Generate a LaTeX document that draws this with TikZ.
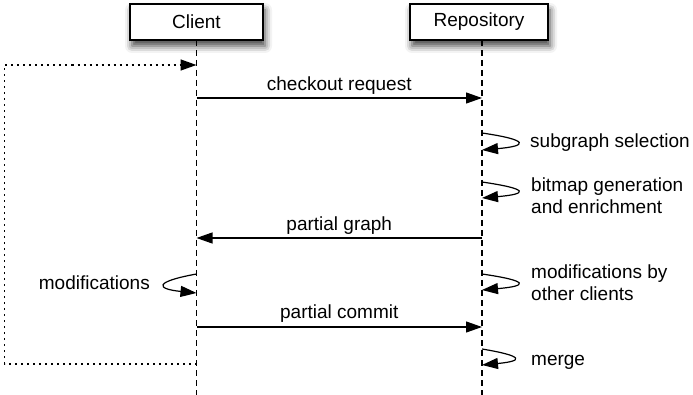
\documentclass[tikz,border=0pt]{standalone}
\usepackage{fontspec}
\setmainfont{Liberation Sans}
\usetikzlibrary{arrows.meta, shadows.blur}

\tikzset{
  actor/.style={draw, line width=1.4pt, fill=white, minimum height=36pt, inner sep=0pt,
    blur shadow={shadow xshift=2pt, shadow yshift=-6pt, shadow blur radius=7pt, shadow opacity=75}},
  lifeline/.style={line width=1.4pt, dash pattern=on 6pt off 4pt},
  msg/.style={line width=1.2pt, -{Triangle[length=16pt, width=11pt]}},
  lbl/.style={inner sep=0pt},
}

\begin{document}
\begin{tikzpicture}[x=1pt, y=-1pt, font=\fontsize{19}{22}\selectfont]
  \useasboundingbox (0,0) rectangle (693,395);

  % the two parties and their life lines
  \coordinate (c-end) at (196.5,395);
  \coordinate (r-end) at (482,395);
  \draw[lifeline] (196.5,40) -- (c-end);
  \draw[lifeline] (482,40) -- (r-end);
  \node[actor, minimum width=133pt] (client) at (196.5,22) {Client};
  \node[actor, minimum width=138pt] (repo) at (479,22) {Repository};

  % points on the life lines
  \coordinate (c-again) at (196.5,65);
  \coordinate (c-req) at (196.5,98);   \coordinate (r-req) at (482,98);
  \coordinate (r-sel1) at (482,133);   \coordinate (r-sel2) at (482,150);
  \coordinate (r-bmp1) at (482,182);   \coordinate (r-bmp2) at (482,198);
  \coordinate (c-part) at (196.5,238); \coordinate (r-part) at (482,238);
  \coordinate (c-mod1) at (196.5,274); \coordinate (c-mod2) at (196.5,293);
  \coordinate (r-oth1) at (482,274);   \coordinate (r-oth2) at (482,290);
  \coordinate (c-com) at (196.5,327);  \coordinate (r-com) at (482,327);
  \coordinate (r-mrg1) at (482,349);   \coordinate (r-mrg2) at (482,365);
  \coordinate (c-back) at (196.5,364);

  % messages
  \draw[msg] (c-req) -- node[lbl, above=3pt] (l-req) {checkout request} (r-req);
  \draw[msg] (r-part) -- node[lbl, above=3pt] (l-part) {partial graph} (c-part);
  \draw[msg] (c-com) -- node[lbl, above=4pt] (l-com) {partial commit} (r-com);

  % self calls
  \draw[msg] (r-sel1) .. controls +(48,7) and +(46,-4) .. (r-sel2);
  \draw[msg] (r-bmp1) .. controls +(48,7) and +(46,-4) .. (r-bmp2);
  \draw[msg] (r-oth1) .. controls +(48,7) and +(46,-4) .. (r-oth2);
  \draw[msg] (r-mrg1) .. controls +(42,7) and +(42,-4) .. (r-mrg2);
  \draw[msg] (c-mod1) .. controls +(-44,8) and +(-40,-4) .. (c-mod2);

  \node[lbl, anchor=base west] (l-sel) at (530,148) {subgraph selection};
  \node[lbl, anchor=west, align=left] (l-bmp) at (531,195.5) {bitmap generation\\and enrichment};
  \node[lbl, anchor=west, align=left] (l-oth) at (531,282.5) {modifications by\\other clients};
  \node[lbl, anchor=base west] (l-mrg) at (531,365) {merge};
  \node[lbl, anchor=base east] (l-mod) at (150,289) {modifications};

  % start over with the next checkout
  \draw[line width=1.5pt, dash pattern=on 2pt off 4pt, -{Triangle[length=16pt, width=11pt]}]
    (c-back) -- ++(-192,0) |- (c-again);
\end{tikzpicture}
\end{document}
